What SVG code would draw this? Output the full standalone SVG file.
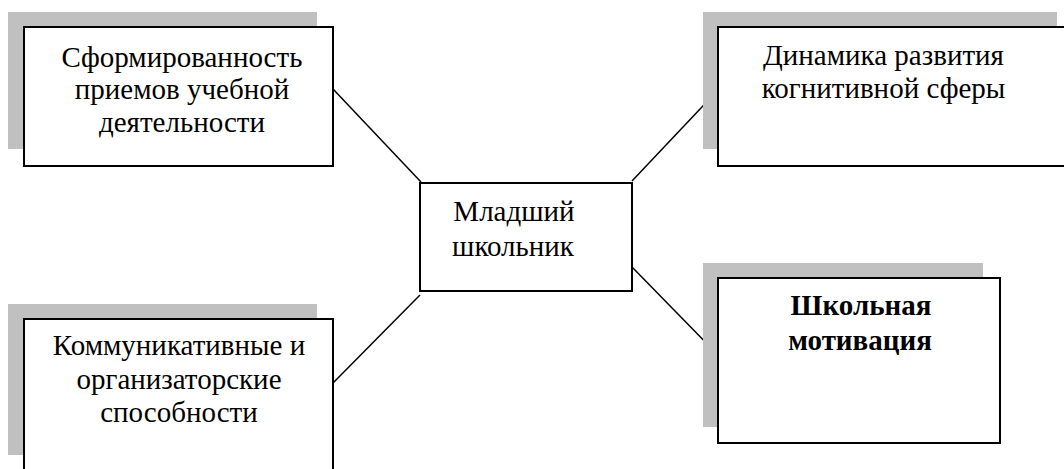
<svg xmlns="http://www.w3.org/2000/svg" width="1064" height="469" viewBox="0 0 1064 469">
<style>
.shadow{fill:#c0c0c0;stroke:none}
.box{fill:#ffffff;stroke:#000000;stroke-width:2}
.conn line{stroke:#000000;stroke-width:1.5}
</style>
<rect width="1064" height="469" fill="#ffffff"/>
<g id="connectors" class="conn">
<line x1="333" y1="89" x2="421" y2="182"/>
<line x1="632" y1="181" x2="718" y2="90"/>
<line x1="420" y1="295" x2="333" y2="383"/>
<line x1="632" y1="267" x2="718" y2="355"/>
</g>
<g id="node-skills">
<rect class="shadow" x="8" y="12" width="309" height="137"/>
<rect class="box" x="24" y="27" width="309" height="139"/>
<text x="182" y="66.5" font-family="'Liberation Serif', 'Times New Roman', serif" font-size="29" text-anchor="middle" fill="#000">Сформированность</text>
<text x="182" y="99" font-family="'Liberation Serif', 'Times New Roman', serif" font-size="29" text-anchor="middle" fill="#000">приемов учебной</text>
<text x="182" y="131.5" font-family="'Liberation Serif', 'Times New Roman', serif" font-size="29" text-anchor="middle" fill="#000">деятельности</text>
</g>
<g id="node-cognitive">
<rect class="shadow" x="703" y="12" width="354" height="137"/>
<rect class="box" x="718" y="27" width="360" height="139"/>
<text x="883.5" y="64.5" font-family="'Liberation Serif', 'Times New Roman', serif" font-size="29" text-anchor="middle" fill="#000">Динамика развития</text>
<text x="883.5" y="98" font-family="'Liberation Serif', 'Times New Roman', serif" font-size="29" text-anchor="middle" fill="#000">когнитивной сферы</text>
</g>
<g id="node-center">
<rect class="box" x="420" y="183" width="212" height="108"/>
<text x="514" y="220.5" font-family="'Liberation Serif', 'Times New Roman', serif" font-size="29" text-anchor="middle" fill="#000">Младший</text>
<text x="513" y="256" font-family="'Liberation Serif', 'Times New Roman', serif" font-size="29" text-anchor="middle" fill="#000">школьник</text>
</g>
<g id="node-communication">
<rect class="shadow" x="8" y="304" width="309" height="151"/>
<rect class="box" x="24" y="319" width="309" height="170"/>
<text x="179" y="355" font-family="'Liberation Serif', 'Times New Roman', serif" font-size="29" text-anchor="middle" fill="#000">Коммуникативные и</text>
<text x="179" y="388.5" font-family="'Liberation Serif', 'Times New Roman', serif" font-size="29" text-anchor="middle" fill="#000">организаторские</text>
<text x="179" y="422" font-family="'Liberation Serif', 'Times New Roman', serif" font-size="29" text-anchor="middle" fill="#000">способности</text>
</g>
<g id="node-motivation">
<rect class="shadow" x="703" y="263" width="280" height="164"/>
<rect class="box" x="718" y="278" width="282" height="165"/>
<text x="861" y="315" font-family="'Liberation Serif', 'Times New Roman', serif" font-size="29" font-weight="bold" text-anchor="middle" fill="#000">Школьная</text>
<text x="860" y="350" font-family="'Liberation Serif', 'Times New Roman', serif" font-size="29" font-weight="bold" text-anchor="middle" fill="#000">мотивация</text>
</g>
</svg>
